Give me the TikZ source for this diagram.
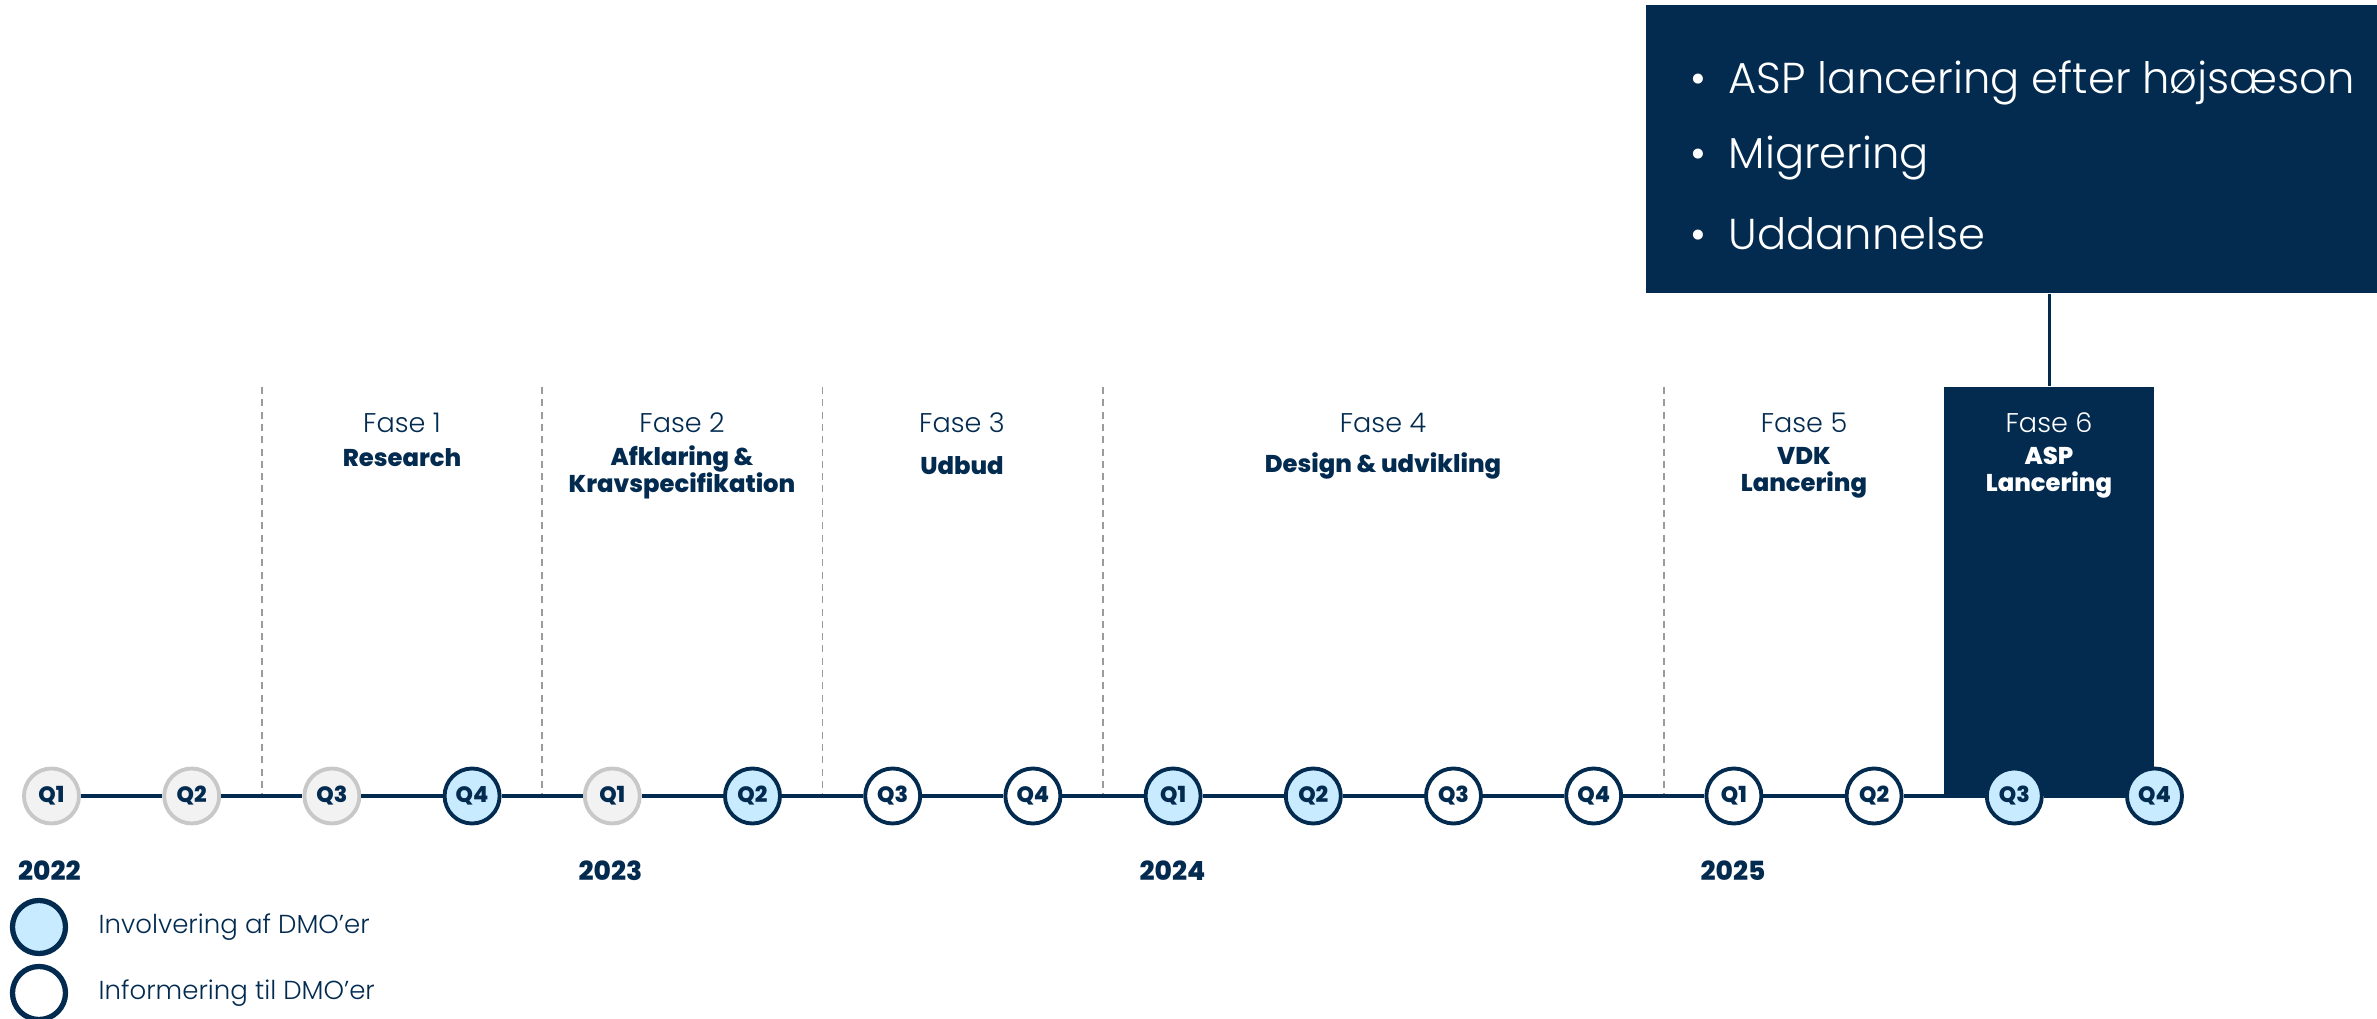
\documentclass[tikz,border=0pt]{standalone}
\usepackage{fontspec}
\setmainfont{Poppins}
\newfontfamily\lightfont{Poppins Light}
\newfontfamily\heavyfont{Poppins ExtraBold}
\definecolor{navy}{HTML}{032B50}
\definecolor{lightblue}{HTML}{C8EBFF}
\definecolor{pastgray}{HTML}{F2F2F2}
\definecolor{ringgray}{HTML}{C8C8C8}
\definecolor{dashgray}{HTML}{9B9B9B}

\begin{document}
\begin{tikzpicture}[x=0.01cm, y=-0.01cm]
      \tikzset{quarter/.style = {shape=circle, draw=navy, line width=1.1pt, minimum size=0.55cm, inner sep=0pt, text=navy, font=\heavyfont\fontsize{6.3}{6.3}\selectfont}}
      \tikzset{past/.style = {quarter, draw=ringgray, fill=pastgray}}
      \tikzset{involve/.style = {quarter, fill=lightblue}}
      \tikzset{inform/.style = {quarter, fill=white}}
      \tikzset{edge/.style = {-, draw=navy, line width=1.1pt}}
      \tikzset{divider/.style = {draw=dashgray, line width=0.5pt, dash pattern=on 2pt off 1.5pt}}
      \tikzset{fase/.style = {text=navy, font=\lightfont\fontsize{7.7}{9}\selectfont}}
      \tikzset{title/.style = {text=navy, align=center, font=\heavyfont\fontsize{6.9}{7.7}\selectfont}}
      \tikzset{year/.style = {anchor=west, inner sep=0pt, text=navy, font=\heavyfont\fontsize{7.5}{9}\selectfont}}
      \tikzset{legend/.style = {anchor=west, inner sep=0pt, text=navy, font=\lightfont\fontsize{7.4}{9}\selectfont}}
      \tikzset{panel/.style = {fill=navy, inner sep=0pt}}
      \tikzset{point/.style = {anchor=west, inner sep=0pt, text=white, font=\lightfont\fontsize{12.3}{14}\selectfont}}

      \useasboundingbox (0,0) rectangle (2377,1019);

      % phase dividers
      \draw[divider] (261.8,387) -- (261.8,796);
      \draw[divider] (542,387) -- (542,796);
      \draw[divider] (822.6,387) -- (822.6,796);
      \draw[divider] (1103,387) -- (1103,796);
      \draw[divider] (1663.8,387) -- (1663.8,796);

      % highlighted phase and callout
      \node[panel, minimum width=2.1cm, minimum height=4.09cm] (asp) at (2049.3,591.5) {};
      \node[panel, minimum width=7.31cm, minimum height=2.88cm] (info) at (2011.5,149) {};
      \draw[edge, line width=0.9pt] (asp.north) -- (info.south -| asp.north);

      \node[point] (p1) at (1690,83) {\makebox[0.38cm][l]{\textbullet}ASP lancering efter højsæson};
      \node[point] (p2) at (1690,158) {\makebox[0.38cm][l]{\textbullet}Migrering};
      \node[point] (p3) at (1690,234) {\makebox[0.38cm][l]{\textbullet}Uddannelse};

      % phases
      \node[fase] (f1) at (402,423) {Fase 1};
      \node[title] (t1) at (402,458) {Research};
      \node[fase] (f2) at (682,423) {Fase 2};
      \node[title] (t2) at (682,472) {Afklaring \&\\Kravspecifikation};
      \node[fase] (f3) at (962,423) {Fase 3};
      \node[title] (t3) at (962,466) {Udbud};
      \node[fase] (f4) at (1383,423) {Fase 4};
      \node[title] (t4) at (1383,466) {Design \& udvikling};
      \node[fase] (f5) at (1804,423) {Fase 5};
      \node[title] (t5) at (1804,473) {VDK\\Lancering};
      \node[fase, text=white] (f6) at (2049,423) {Fase 6};
      \node[title, text=white] (t6) at (2049,473) {ASP\\Lancering};

      % quarters
      \node[past] (1) at (51.5,796) {Q1};
      \node[past] (2) at (191.7,796) {Q2};
      \node[past] (3) at (331.9,796) {Q3};
      \node[involve] (4) at (472.1,796) {Q4};
      \node[past] (5) at (612.3,796) {Q1};
      \node[involve] (6) at (752.5,796) {Q2};
      \node[inform] (7) at (892.7,796) {Q3};
      \node[inform] (8) at (1032.9,796) {Q4};
      \node[involve] (9) at (1173.1,796) {Q1};
      \node[involve] (10) at (1313.3,796) {Q2};
      \node[inform] (11) at (1453.5,796) {Q3};
      \node[inform] (12) at (1593.7,796) {Q4};
      \node[inform] (13) at (1733.9,796) {Q1};
      \node[inform] (14) at (1874.1,796) {Q2};
      \node[involve] (15) at (2014.3,796) {Q3};
      \node[involve] (16) at (2154.5,796) {Q4};

      \draw[edge] (1) -- (2);
      \draw[edge] (2) -- (3);
      \draw[edge] (3) -- (4);
      \draw[edge] (4) -- (5);
      \draw[edge] (5) -- (6);
      \draw[edge] (6) -- (7);
      \draw[edge] (7) -- (8);
      \draw[edge] (8) -- (9);
      \draw[edge] (9) -- (10);
      \draw[edge] (10) -- (11);
      \draw[edge] (11) -- (12);
      \draw[edge] (12) -- (13);
      \draw[edge] (13) -- (14);
      \draw[edge] (14) -- (15);
      \draw[edge] (15) -- (16);

      % years
      \node[year] (y22) at (17.5,871) {2022};
      \node[year] (y23) at (578,871) {2023};
      \node[year] (y24) at (1139,871) {2024};
      \node[year] (y25) at (1700,871) {2025};

      % legend
      \node[involve, minimum size=0.53cm, line width=1.5pt] (l1) at (39,927) {};
      \node[legend] (l1text) at (98,927) {Involvering af DMO’er};
      \node[inform, minimum size=0.53cm, line width=1.5pt] (l2) at (39,993) {};
      \node[legend] (l2text) at (98,993) {Informering til DMO’er};
    \end{tikzpicture}
\end{document}
